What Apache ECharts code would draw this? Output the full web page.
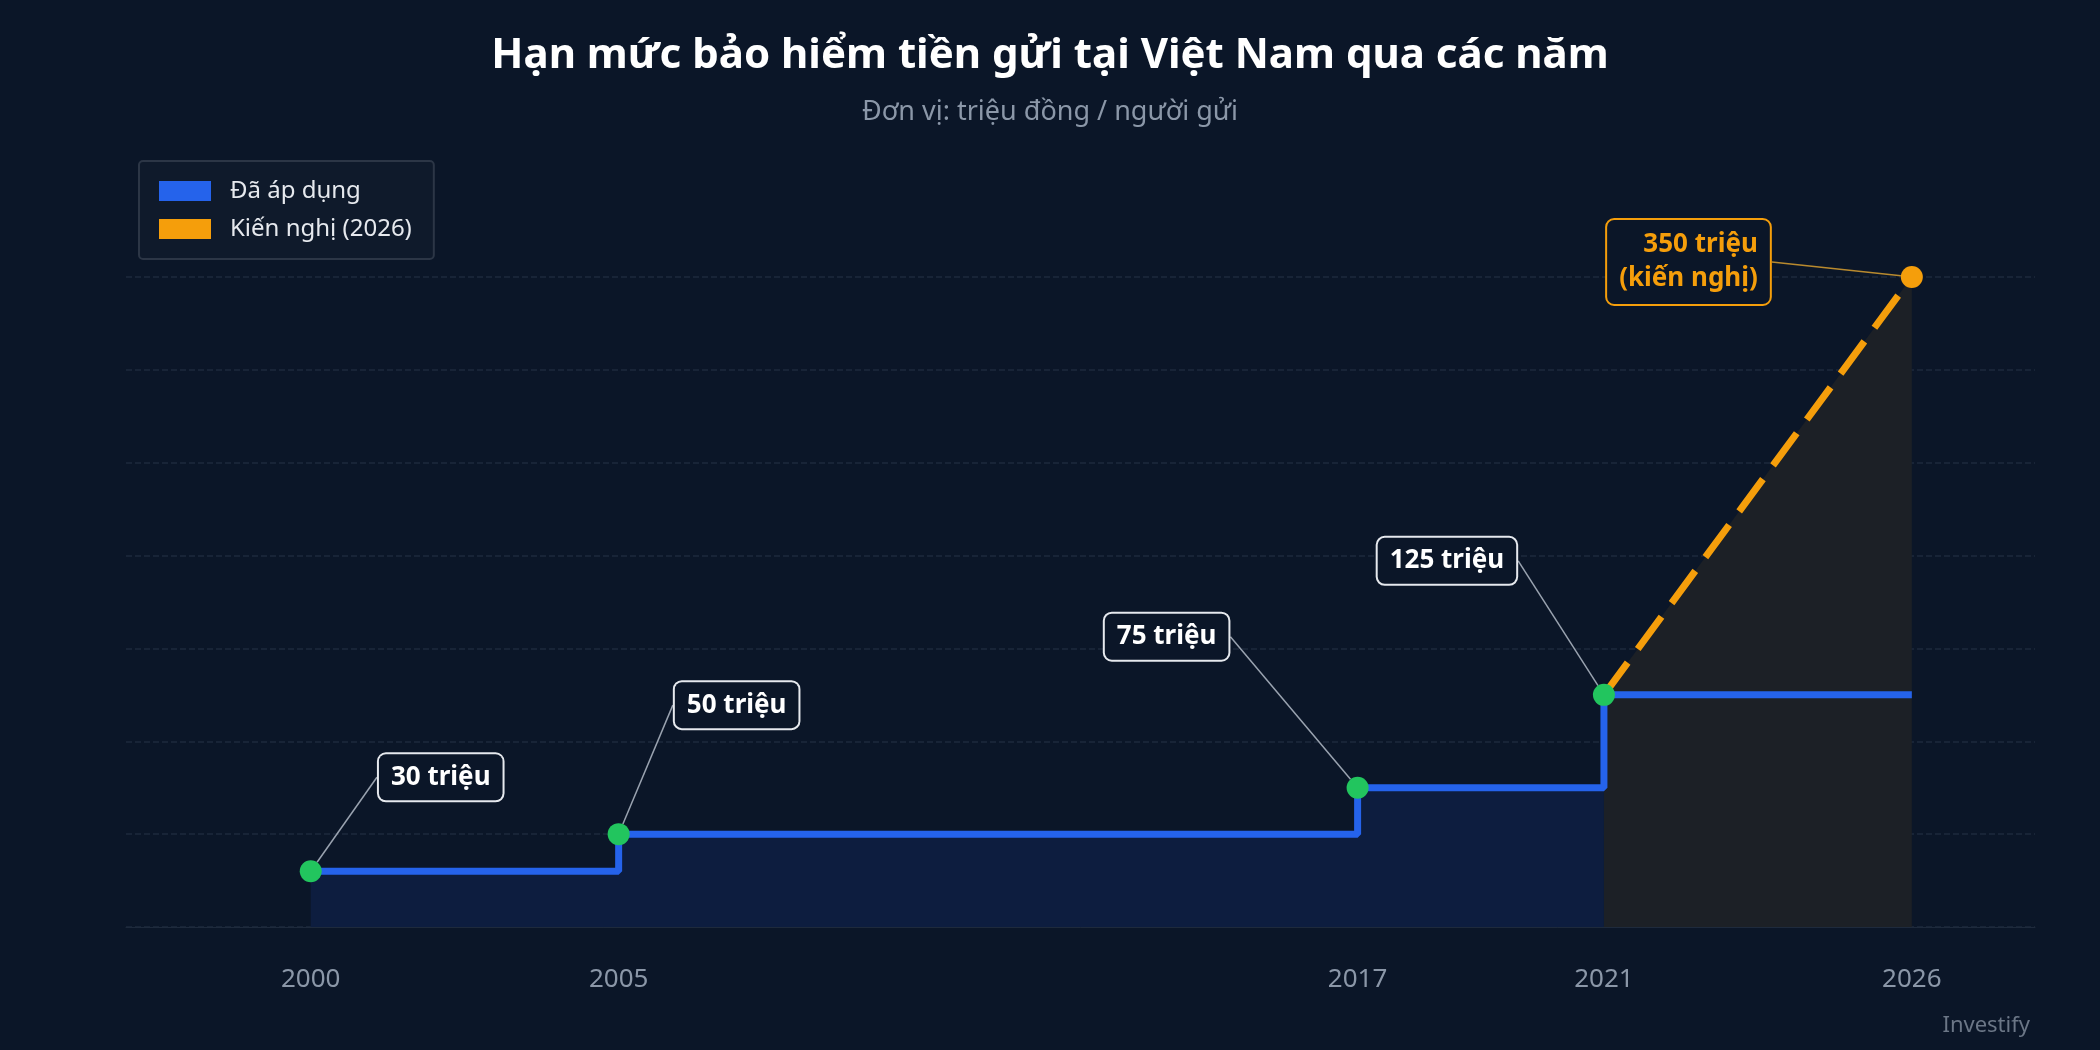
<!DOCTYPE html>
<html><head><meta charset="utf-8">
<script src="https://cdn.jsdelivr.net/npm/echarts@6/dist/echarts.min.js"></script>
<style>html,body{margin:0;background:#0b1628}#c{width:2100px;height:1050px}</style>
</head><body><div id="c"></div>
<script>
// du lieu han muc (trieu dong)
var years = [2000, 2005, 2017, 2021];
var limits = [30, 50, 75, 125];
var labelTexts = ['30 triệu', '50 triệu', '75 triệu', '125 triệu'];
var proposalYears = [2021, 2026];
var proposalValues = [125, 350];
var proposalLabel = '350 triệu\n(kiến nghị)';
var xTicks = [2000, 2005, 2017, 2021, 2026];

var font = 'Noto Sans';
var offsets = [[130, -94], [118, -129], [-191, -151], [-157, -134]];

var stepData = years.map(function (y, i) { return [y, limits[i]]; });
var lineData = stepData.concat([[2026, 125]]);
var propData = proposalYears.map(function (y, i) { return [y, proposalValues[i]]; });

var myChart = echarts.init(document.getElementById('c'));
var option = {
    backgroundColor: '#0b1628',
    textStyle: { fontFamily: font },
    title: [{
        text: 'Hạn mức bảo hiểm tiền gửi tại Việt Nam qua các năm',
        subtext: 'Đơn vị: triệu đồng / người gửi',
        left: 'center', top: 30, itemGap: 22,
        textStyle: { color: '#ffffff', fontSize: 42, fontWeight: 'bold', fontFamily: font },
        subtextStyle: { color: '#8b97a8', fontSize: 27, fontFamily: font }
    }, {
        text: 'Investify', right: 65, bottom: 8,
        textStyle: { color: '#6b7686', fontSize: 22, fontWeight: 'normal', fontFamily: font }
    }],
    legend: {
        left: 139, top: 161, orient: 'vertical',
        padding: [18, 22, 18, 20], itemGap: 14,
        itemWidth: 52, itemHeight: 20,
        backgroundColor: '#0f1a2b', borderColor: '#2c3646', borderWidth: 2, borderRadius: 4,
        textStyle: { color: '#e6e9ee', fontSize: 24, fontFamily: font, padding: [0, 0, 0, 14] },
        data: [
            { name: 'Đã áp dụng', icon: 'rect', itemStyle: { color: '#2563eb' } },
            { name: 'Kiến nghị (2026)', icon: 'rect', itemStyle: { color: '#f59e0b' } }
        ]
    },
    grid: { left: 126, right: 65, top: 277, bottom: 123 },
    xAxis: {
        type: 'value', min: 1997, max: 2028,
        splitLine: { show: false },
        axisLine: { show: true, lineStyle: { color: '#1e2a3c' } },
        axisTick: { show: false },
        axisLabel: {
            color: '#8b97a8', fontSize: 26, margin: 40,
            customValues: xTicks, formatter: function (v) { return v; }
        }
    },
    yAxis: {
        type: 'value', min: 0, max: 350, interval: 50,
        axisLabel: { show: false },
        axisLine: { show: false }, axisTick: { show: false },
        splitLine: { lineStyle: { color: '#1e2a3c', type: 'dashed', width: 1.5 } }
    },
    series: [
        {
            name: 'area', type: 'line', step: 'end', data: stepData.concat([[2021, 125]]),
            symbol: 'none', lineStyle: { width: 0 },
            areaStyle: { color: '#0d1d3f', opacity: 1 }, z: 1, silent: true
        },
        {
            name: 'Kiến nghị (2026)', type: 'line', data: propData, symbol: 'none',
            lineStyle: { color: '#f59e0b', width: 7, type: [40, 17] },
            areaStyle: { color: '#1c2026', opacity: 1 }, z: 2
        },
        {
            name: 'Đã áp dụng', type: 'line', step: 'end', data: lineData, symbol: 'none',
            lineStyle: { color: '#2563eb', width: 7 }, z: 3
        },
        {
            type: 'scatter', data: stepData, symbolSize: 22,
            itemStyle: { color: '#22c55e', opacity: 1 }, z: 5,
            label: {
                show: true, position: 'inside',
                formatter: function (p) { return labelTexts[p.dataIndex]; },
                color: '#ffffff', fontSize: 26, fontWeight: 'bold', opacity: 1,
                fontFamily: font, backgroundColor: '#0b1628', borderColor: '#e6e9ee',
                borderWidth: 2, borderRadius: 7, padding: [10, 12]
            },
            labelLayout: function (p) {
                return { dx: offsets[p.dataIndex][0], dy: offsets[p.dataIndex][1] };
            },
            labelLine: { show: true, lineStyle: { color: '#9aa3b0', width: 1.5, opacity: 1 } }
        },
        {
            type: 'scatter', symbolSize: 22, itemStyle: { color: '#f59e0b', opacity: 1 }, z: 5,
            data: [[2026, 350]],
            label: {
                show: true, position: 'inside', formatter: proposalLabel, align: 'right',
                color: '#f59e0b', fontSize: 26, fontWeight: 'bold', lineHeight: 34, opacity: 1,
                fontFamily: font, backgroundColor: '#0b1628', borderColor: '#f59e0b',
                borderWidth: 2, borderRadius: 7, padding: [8, 12]
            },
            labelLayout: { dx: -142, dy: -15 },
            labelLine: { show: true, lineStyle: { color: '#b98a2e', width: 1.5, opacity: 1 } }
        }
    ]
};
myChart.setOption(option);
</script></body></html>
